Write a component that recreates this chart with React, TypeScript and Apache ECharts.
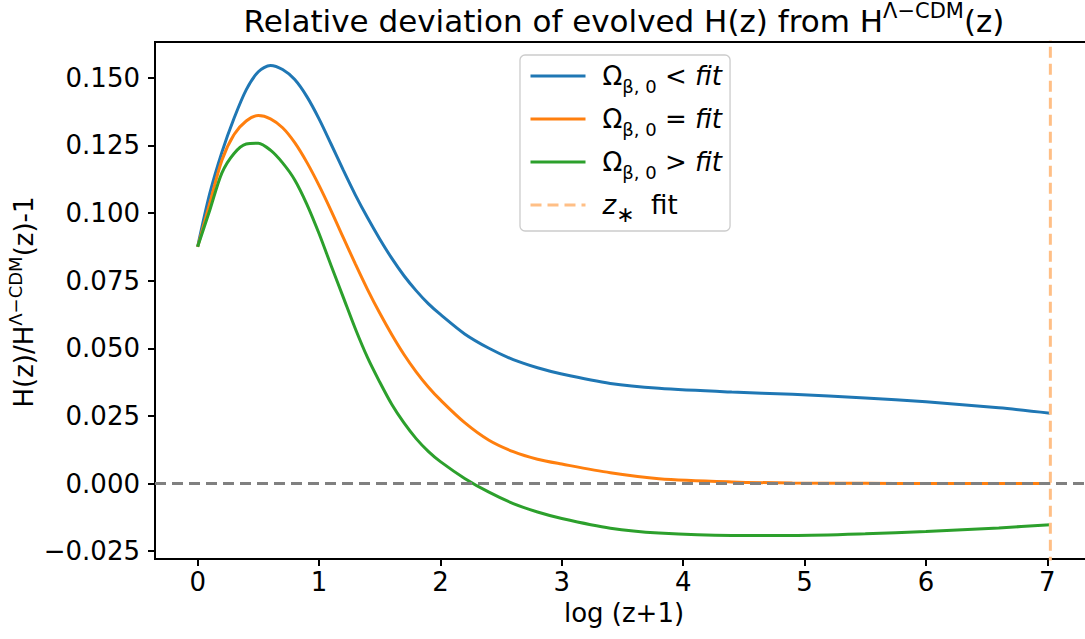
import React, { useEffect, useRef } from "react";
import * as echarts from "echarts";

// log(z+1) sample positions
const logZ = [
  0, 0.1, 0.2, 0.3, 0.4, 0.5, 0.6, 0.7, 0.8, 0.9, 1.0, 1.1, 1.2, 1.3, 1.4, 1.5,
  1.6, 1.7, 1.8, 1.9, 2.0, 2.2, 2.4, 2.6, 2.8, 3.0, 3.4, 3.8, 4.4, 4.9, 5.5, 6.0,
  6.6, 7.025,
];
// Omega_beta,0 < fit
const blueDev = [
  0.0875, 0.1072, 0.1225, 0.135, 0.1455, 0.1522, 0.1545, 0.153, 0.1493, 0.143,
  0.1348, 0.1254, 0.1158, 0.1066, 0.0982, 0.0904, 0.0832, 0.0768, 0.0713,
  0.0665, 0.0625, 0.0553, 0.05, 0.0458, 0.0428, 0.0405, 0.037, 0.0352, 0.0338,
  0.033, 0.0316, 0.0302, 0.028, 0.026,
];
// Omega_beta,0 = fit
const orangeDev = [
  0.0875, 0.1036, 0.1195, 0.129, 0.134, 0.136, 0.1348, 0.1315, 0.126, 0.1187,
  0.1102, 0.1008, 0.0909, 0.0811, 0.0717, 0.063, 0.055, 0.0477, 0.0413, 0.0357,
  0.0309, 0.0225, 0.016, 0.0118, 0.009, 0.0072, 0.004, 0.0018, 0.0006, 0.0002,
  0.0001, 0.0, 0.0, 0.0,
];
// Omega_beta,0 > fit
const greenDev = [
  0.0875, 0.101, 0.1148, 0.122, 0.1255, 0.1258, 0.1232, 0.1185, 0.1122, 0.1032,
  0.0924, 0.0805, 0.0688, 0.0571, 0.0465, 0.0375, 0.0292, 0.0224, 0.0166,
  0.0119, 0.0081, 0.0019, -0.0032, -0.0074, -0.0105, -0.0129, -0.0165, -0.0183,
  -0.0192, -0.0192, -0.0186, -0.0177, -0.0164, -0.0152,
];
const zStarFit = 7.025;
const xTicks = [0, 1, 2, 3, 4, 5, 6, 7];
const yTicks = [-0.025, 0, 0.025, 0.05, 0.075, 0.1, 0.125, 0.15];
const seriesNames = ["Ω_β,0 < fit", "Ω_β,0 = fit", "Ω_β,0 > fit", "z_* fit"];
const legendRich: Record<string, string> = {
  "Ω_β,0 < fit": "{o|Ω}{b|β, 0}{o| < }{i|fit}",
  "Ω_β,0 = fit": "{o|Ω}{b|β, 0}{o| = }{i|fit}",
  "Ω_β,0 > fit": "{o|Ω}{b|β, 0}{o| > }{i|fit}",
  "z_* fit": "{i|z}{s|∗}{o|  fit}",
};

const FONT = "DejaVu Sans";

export default function App() {
  const ref = useRef<HTMLDivElement>(null);
  useEffect(() => {
    if (!ref.current) return;
    const chart = echarts.init(ref.current, undefined, { renderer: "svg" });
    const pairs = (ys: number[]) => logZ.map((x, i) => [x, ys[i]]);
    const axisLineStyle = { color: "#000", width: 2 };
    chart.setOption({
      animation: false,
      textStyle: { fontFamily: FONT },
      grid: {
        left: 155,
        top: 42,
        width: 938,
        height: 517,
        show: true,
        borderColor: "#000",
        borderWidth: 2,
        backgroundColor: "transparent",
      },
      xAxis: {
        type: "value",
        min: -0.3513,
        max: 7.3763,
        axisLine: { show: true, onZero: false, lineStyle: axisLineStyle },
        axisTick: { show: true, inside: false, length: 7, customValues: xTicks, lineStyle: axisLineStyle },
        axisLabel: { customValues: xTicks, fontSize: 26, color: "#000", margin: 10, fontFamily: FONT },
        splitLine: { show: false },
      },
      yAxis: {
        type: "value",
        min: -0.02789,
        max: 0.16319,
        axisLine: { show: true, onZero: false, lineStyle: axisLineStyle },
        axisTick: { show: true, inside: false, length: 7, customValues: yTicks, lineStyle: axisLineStyle },
        axisLabel: {
          customValues: yTicks,
          fontSize: 26,
          color: "#000",
          margin: 15,
          fontFamily: FONT,
          formatter: (v: number) => (v < 0 ? "−" : "") + Math.abs(v).toFixed(3),
        },
        splitLine: { show: false },
      },
      legend: {
        orient: "vertical",
        left: 520,
        top: 55,
        padding: [1, 8, 6, 9],
        itemGap: 3,
        itemWidth: 55,
        itemHeight: 14,
        backgroundColor: "rgba(255,255,255,0.8)",
        borderColor: "#cccccc",
        borderWidth: 1.3,
        borderRadius: 5,
        itemStyle: { opacity: 0, borderWidth: 0 },
        lineStyle: { width: 3 },
        data: seriesNames,
        formatter: (name: string) => legendRich[name],
        textStyle: {
          padding: [0, 0, 0, 12],
          lineHeight: 40,
          rich: {
            o: { fontSize: 26, lineHeight: 40, color: "#000", fontFamily: FONT },
            i: { fontSize: 26, lineHeight: 40, color: "#000", fontFamily: FONT, fontStyle: "italic" },
            b: { fontSize: 18, lineHeight: 18, padding: [21, 0, 1, 0], color: "#000", fontFamily: FONT },
            s: { fontSize: 22, lineHeight: 22, padding: [18, 0, 0, 0], color: "#000", fontFamily: FONT },
          },
        },
      },
      series: [
        {
          name: seriesNames[0],
          type: "line",
          data: pairs(blueDev),
          symbol: "none",
          smooth: 0.3,
          color: "#1f77b4",
          lineStyle: { width: 3, color: "#1f77b4" },
          markLine: {
            silent: true,
            symbol: ["none", "none"],
            label: { show: false },
            lineStyle: { color: "#808080", type: [11, 6], width: 3 },
            data: [{ yAxis: 0 }],
          },
        },
        {
          name: seriesNames[1],
          type: "line",
          data: pairs(orangeDev),
          symbol: "none",
          smooth: 0.3,
          color: "#ff7f0e",
          lineStyle: { width: 3, color: "#ff7f0e" },
        },
        {
          name: seriesNames[2],
          type: "line",
          data: pairs(greenDev),
          symbol: "none",
          smooth: 0.3,
          color: "#2ca02c",
          lineStyle: { width: 3, color: "#2ca02c" },
        },
        {
          name: seriesNames[3],
          type: "line",
          data: [
            [zStarFit, -0.05],
            [zStarFit, 0.2],
          ],
          symbol: "none",
          clip: true,
          color: "#ffbf86",
          lineStyle: { width: 3, color: "#ffbf86", type: [11, 6] },
        },
      ],
      graphic: [
        {
          type: "text",
          x: 624,
          y: 21,
          style: {
            text: "{m|Relative deviation of evolved H(z) from H}{s|Λ−CDM}{m|(z)}",
            align: "center",
            verticalAlign: "middle",
            rich: {
              m: { fontSize: 31, lineHeight: 44, fill: "#000", fontFamily: FONT },
              s: { fontSize: 21, lineHeight: 21, padding: [1.5, 0, 21.5, 0], fill: "#000", fontFamily: FONT },
            },
          },
        },
        {
          type: "text",
          x: 24,
          y: 302,
          rotation: Math.PI / 2,
          style: {
            text: "{m|H(z)/H}{s|Λ−CDM}{m|(z)-1}",
            align: "center",
            verticalAlign: "middle",
            rich: {
              m: { fontSize: 26, lineHeight: 38, fill: "#000", fontFamily: FONT },
              s: { fontSize: 18, lineHeight: 18, padding: [1, 0, 19, 0], fill: "#000", fontFamily: FONT },
            },
          },
        },
        {
          type: "text",
          x: 624,
          y: 613,
          style: {
            text: "log (z+1)",
            align: "center",
            verticalAlign: "middle",
            fontSize: 26,
            fontFamily: FONT,
            fill: "#000",
          },
        },
      ],
    });
    return () => chart.dispose();
  }, []);
  return (
    <div style={{ position: "fixed", left: 0, top: 0, width: 1085, height: 639, overflow: "hidden", background: "#fff" }}>
      <div ref={ref} style={{ width: 1100, height: 639 }} />
    </div>
  );
}
